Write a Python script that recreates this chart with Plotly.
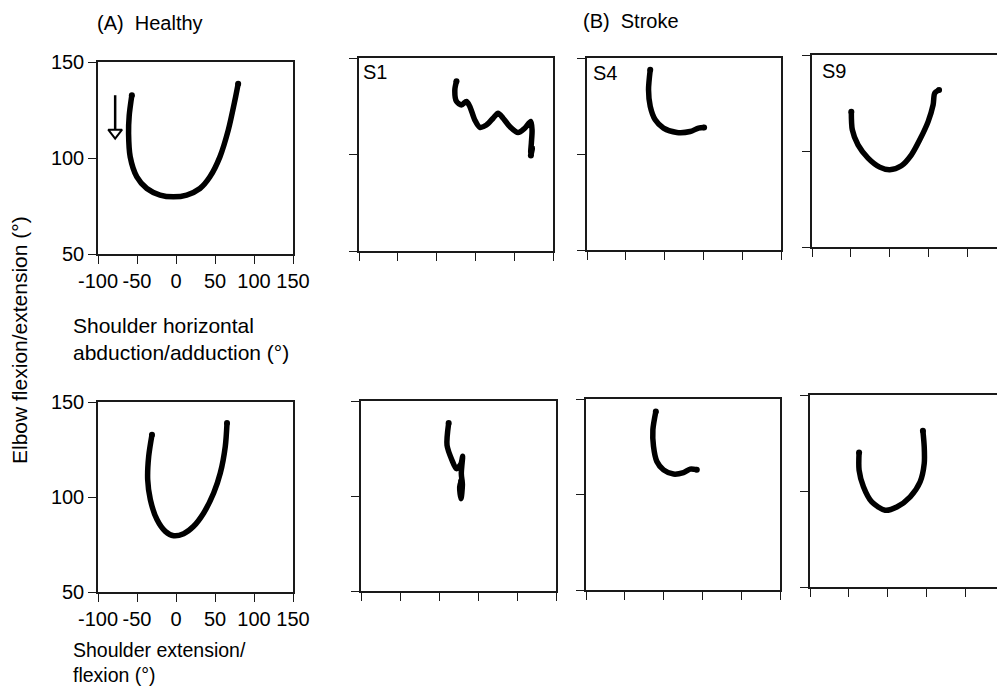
import plotly.graph_objects as go

W, H = 997, 690

# ---------------- data ----------------
tick_vals_x = [-100, -50, 0, 50, 100, 150]
tick_text_x = ["-100", "-50", "0", "50", "100", "150"]
tick_vals_y = [50, 100, 150]
tick_text_y = ["50", "100", "150"]

# Row 1: shoulder horizontal abduction/adduction vs elbow
healthy_hor_x = [-56.6, -60.0, -60.8, -58.7, -50.2, -37.4, -20.4, -3.3, 13.7, 30.7, 43.5, 56.3, 67.0, 75.5, 79.7]
healthy_hor_y = [132.7, 122.0, 112.7, 100.6, 90.2, 84.1, 80.7, 79.8, 80.7, 84.1, 90.2, 100.6, 114.5, 130.0, 138.7]

s1_hor_x = [25.6, 23.5, 25.6, 32.1, 38.5, 42.8, 49.2, 55.7, 64.2, 72.8, 79.2, 85.7, 94.3, 105.0, 113.6, 121.3, 123.0, 122.1, 121.3, 123.5, 121.5]
s1_hor_y = [137.9, 133.5, 127.5, 125.7, 127.5, 124.9, 117.9, 114.1, 115.3, 118.8, 121.4, 118.8, 114.5, 111.4, 113.6, 117.1, 112.7, 105.8, 101.0, 103.5, 99.5]

s4_hor_x = [-18.5, -20.7, -18.5, -12.1, -1.4, 15.8, 32.9, 43.7, 50.9]
s4_hor_y = [143.9, 133.5, 124.8, 117.8, 113.5, 111.2, 111.7, 113.5, 113.8]

s9_hor_x = [-49.4, -48.1, -40.8, -27.9, -12.9, 0.0, 15.0, 27.9, 38.6, 49.4, 55.8, 57.9, 63.5]
s9_hor_y = [120.5, 111.0, 103.2, 96.3, 91.6, 90.2, 92.3, 98.0, 105.8, 115.3, 124.0, 130.1, 131.8]

# Row 2: shoulder extension/flexion vs elbow
healthy_flex_x = [-30.8, -35.0, -36.3, -32.9, -24.4, -13.7, -3.0, 9.8, 22.6, 35.5, 48.3, 56.8, 63.2, 65.4]
healthy_flex_y = [132.8, 121.4, 109.1, 98.6, 88.1, 81.9, 79.6, 80.7, 84.6, 91.6, 102.1, 112.6, 126.7, 138.9]

s1_flex_x = [12.4, 10.3, 16.7, 22.2, 28.2, 30.3, 28.6, 30.0, 28.2, 26.5, 28.5]
s1_flex_y = [138.4, 126.7, 118.8, 114.4, 117.0, 120.9, 111.8, 106.0, 98.6, 104.7, 108.0]

s4_flex_x = [-10.0, -13.8, -13.0, -8.7, -0.1, 12.8, 25.6, 34.2, 42.8]
s4_flex_y = [143.5, 133.9, 125.2, 117.3, 112.9, 110.7, 111.5, 113.3, 113.0]

s9_flex_x = [-37.0, -37.0, -31.4, -20.7, -3.6, 11.4, 28.6, 41.4, 46.6, 46.6, 44.9]
s9_flex_y = [120.1, 110.9, 102.2, 94.3, 90.0, 91.7, 97.0, 104.8, 114.3, 123.0, 131.4]

# direction arrow in the healthy panel (shaft then head)
arrow_x = [-78, -78]
arrow_y = [132.7, 115.0]
arrow_head_x = [-78]
arrow_head_y = [113.2]

panel_labels = ["S1", "S4", "S9"]

# ---------------- layout geometry (pixels) ----------------
# (x0, x1, ytop, ybottom, xrange_max, show_labels, right_border)
panels = [
    (98, 293, 62, 254, 150, True, True),
    (359, 553, 58, 251, 150, False, True),
    (587, 781, 58, 250, 150, False, True),
    (812, 997, 55, 247, 138, False, False),
    (98, 293, 402, 592, 150, True, True),
    (361, 556, 401, 591, 150, False, True),
    (586, 780, 399, 590, 150, False, True),
    (810, 997, 395, 587, 140, False, False),
]

series = [
    (healthy_hor_x, healthy_hor_y),
    (s1_hor_x, s1_hor_y),
    (s4_hor_x, s4_hor_y),
    (s9_hor_x, s9_hor_y),
    (healthy_flex_x, healthy_flex_y),
    (s1_flex_x, s1_flex_y),
    (s4_flex_x, s4_flex_y),
    (s9_flex_x, s9_flex_y),
]

FONT = "Liberation Sans, Arial, sans-serif"
LINE_COL = "#1a1a1a"

fig = go.Figure()
layout = dict(
    width=W, height=H,
    margin=dict(l=0, r=0, t=0, b=0, autoexpand=False),
    paper_bgcolor="white", plot_bgcolor="white",
    showlegend=False,
    font=dict(family=FONT, size=20, color="black"),
)

for i, ((x0, x1, yt, yb, xmax, labels, rborder), (xs, ys)) in enumerate(zip(panels, series), start=1):
    xa = "xaxis" if i == 1 else f"xaxis{i}"
    ya = "yaxis" if i == 1 else f"yaxis{i}"
    xr = "x" if i == 1 else f"x{i}"
    yr = "y" if i == 1 else f"y{i}"
    layout[xa] = dict(
        domain=[x0 / W, x1 / W], anchor=yr, range=[-100, xmax],
        tickmode="array", tickvals=tick_vals_x, ticktext=tick_text_x,
        showticklabels=labels, ticks="outside", ticklen=8, tickwidth=1.2,
        tickcolor=LINE_COL, showline=True, linecolor=LINE_COL, linewidth=1.5,
        mirror=True, showgrid=False, zeroline=False, fixedrange=True,
        automargin=False,
        tickfont=dict(family=FONT, size=20, color="black"),
    )
    layout[ya] = dict(
        domain=[1 - yb / H, 1 - yt / H], anchor=xr, range=[50, 150],
        tickmode="array", tickvals=tick_vals_y, ticktext=tick_text_y,
        showticklabels=labels, ticks="outside", ticklen=8, tickwidth=1.2,
        tickcolor=LINE_COL, showline=True, linecolor=LINE_COL, linewidth=1.5,
        mirror=rborder, showgrid=False, zeroline=False, fixedrange=True,
        automargin=False,
        tickfont=dict(family=FONT, size=20, color="black"),
    )
    fig.add_trace(go.Scatter(
        x=xs, y=ys, mode="lines", xaxis=xr, yaxis=yr,
        line=dict(color="black", width=5.5, shape="spline", smoothing=0.8),
        hoverinfo="skip",
    ))
    fig.add_trace(go.Scatter(
        x=[xs[0], xs[-1]], y=[ys[0], ys[-1]], mode="markers", xaxis=xr, yaxis=yr,
        marker=dict(color="black", size=6), hoverinfo="skip",
    ))

# arrow in healthy panel
fig.add_trace(go.Scatter(x=arrow_x, y=arrow_y, mode="lines", xaxis="x", yaxis="y",
                         line=dict(color="black", width=2.5), hoverinfo="skip"))
fig.add_trace(go.Scatter(x=arrow_head_x, y=arrow_head_y, mode="markers", xaxis="x", yaxis="y",
                         marker=dict(symbol="triangle-down-open", size=12, color="black",
                                     line=dict(width=2, color="black")),
                         hoverinfo="skip"))

def px_ann(text, x, y, xanchor="left", yanchor="middle", size=20, angle=0):
    return dict(text=text, x=x / W, y=1 - y / H, xref="paper", yref="paper",
                xanchor=xanchor, yanchor=yanchor, showarrow=False, textangle=angle,
                align="left", font=dict(family=FONT, size=size, color="black"))

anns = [
    px_ann("(A)\u00a0\u00a0Healthy", 95, 23),
    px_ann("(B)\u00a0\u00a0Stroke", 581, 21),
    px_ann("Shoulder horizontal<br>abduction/adduction (°)", 71, 339, size=21),
    px_ann("Shoulder extension/<br>flexion (°)", 71, 662, size=19.5),
    px_ann("Elbow flexion/extension (°)", 19, 340, xanchor="center", angle=-90, size=21),
    px_ann(panel_labels[0], 361, 72),
    px_ann(panel_labels[1], 591, 73),
    px_ann(panel_labels[2], 820, 71),
]
layout["annotations"] = anns
fig.update_layout(**layout)

fig.write_html("out.html", config={"displayModeBar": False})
